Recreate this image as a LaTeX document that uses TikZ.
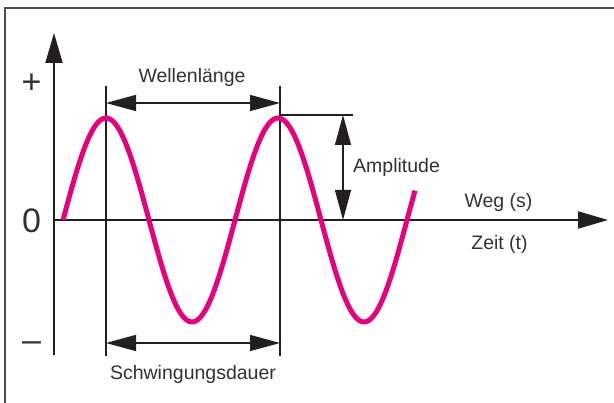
\documentclass[tikz,border=0pt]{standalone}
\usepackage{fontspec}
\setmainfont{Liberation Sans}
\usetikzlibrary{arrows.meta}
\definecolor{wave}{RGB}{230,0,126}
\definecolor{ink}{RGB}{35,31,32}
\definecolor{txt}{RGB}{50,50,50}
\tikzset{
  axisline/.style={draw=ink, line width=2pt},
  dimline/.style={draw=ink, line width=1.3pt},
  bigtip/.style={-{Triangle[length=30pt,width=17pt]}},
  dimtips/.style={{Triangle[length=30pt,width=16pt]}-{Triangle[length=30pt,width=16pt]}},
  lbl/.style={text=txt, font=\fontsize{19.5}{22}\selectfont, inner sep=0pt},
  sym/.style={text=txt, font=\fontsize{34}{36}\selectfont, inner sep=0pt},
}
\begin{document}
\begin{tikzpicture}[x=1pt,y=-1pt]
\useasboundingbox (0,0) rectangle (614,403);
% frame (only top and left visible)
\coordinate (fbl) at (5,403);
\coordinate (ftl) at (5,8);
\coordinate (ftr) at (614,8);
\draw[draw=ink!80, line width=1.5pt] (fbl) -- (ftl) -- (ftr);
% axes
\coordinate (o) at (54,220);
\coordinate (ybot) at (54,355);
\coordinate (ytop) at (54,33);
\coordinate (xend) at (608,220);
\draw[axisline, bigtip] (ybot) -- (ytop);
\draw[axisline, bigtip] (o) -- (xend);
% extension lines
\coordinate (l1t) at (106,86);
\coordinate (l1b) at (106,356);
\coordinate (l2t) at (280,86);
\coordinate (l2b) at (280,356);
\draw[dimline] (l1t) -- (l1b);
\draw[dimline] (l2t) -- (l2b);
% wavelength arrow
\coordinate (wa) at (106,103);
\coordinate (wb) at (280,103);
\draw[dimline, dimtips] (wa) -- (wb);
% period arrow
\coordinate (sa) at (106,343);
\coordinate (sb) at (280,343);
\draw[dimline, dimtips] (sa) -- (sb);
% amplitude
\coordinate (pk) at (280,115);
\coordinate (ae) at (353,115);
\draw[dimline] (pk) -- (ae);
\coordinate (at) at (343,115);
\coordinate (ab) at (343,220);
\draw[dimline, dimtips] (at) -- (ab);
% wave
\draw[draw=wave, line width=5pt] plot[domain=63:415, samples=160, smooth] (\x, {220-102*sin((\x-63)*2.093023)});
% labels
\node[lbl, anchor=base] (wl) at (192,83) {Wellenlänge};
\node[lbl, anchor=base] (sd) at (193,380) {Schwingungsdauer};
\node[lbl, anchor=base west] (am) at (353,173) {Amplitude};
\node[lbl, anchor=base] (weg) at (498.5,208) {Weg (s)};
\node[lbl, anchor=base] (zeit) at (499.5,250) {Zeit (t)};
\node[sym] (plus) at (31.5,84) {+};
\node[sym, anchor=base] (zero) at (31.5,233) {0};
\node[sym] (minus) at (31.5,347) {–};
\end{tikzpicture}
\end{document}
